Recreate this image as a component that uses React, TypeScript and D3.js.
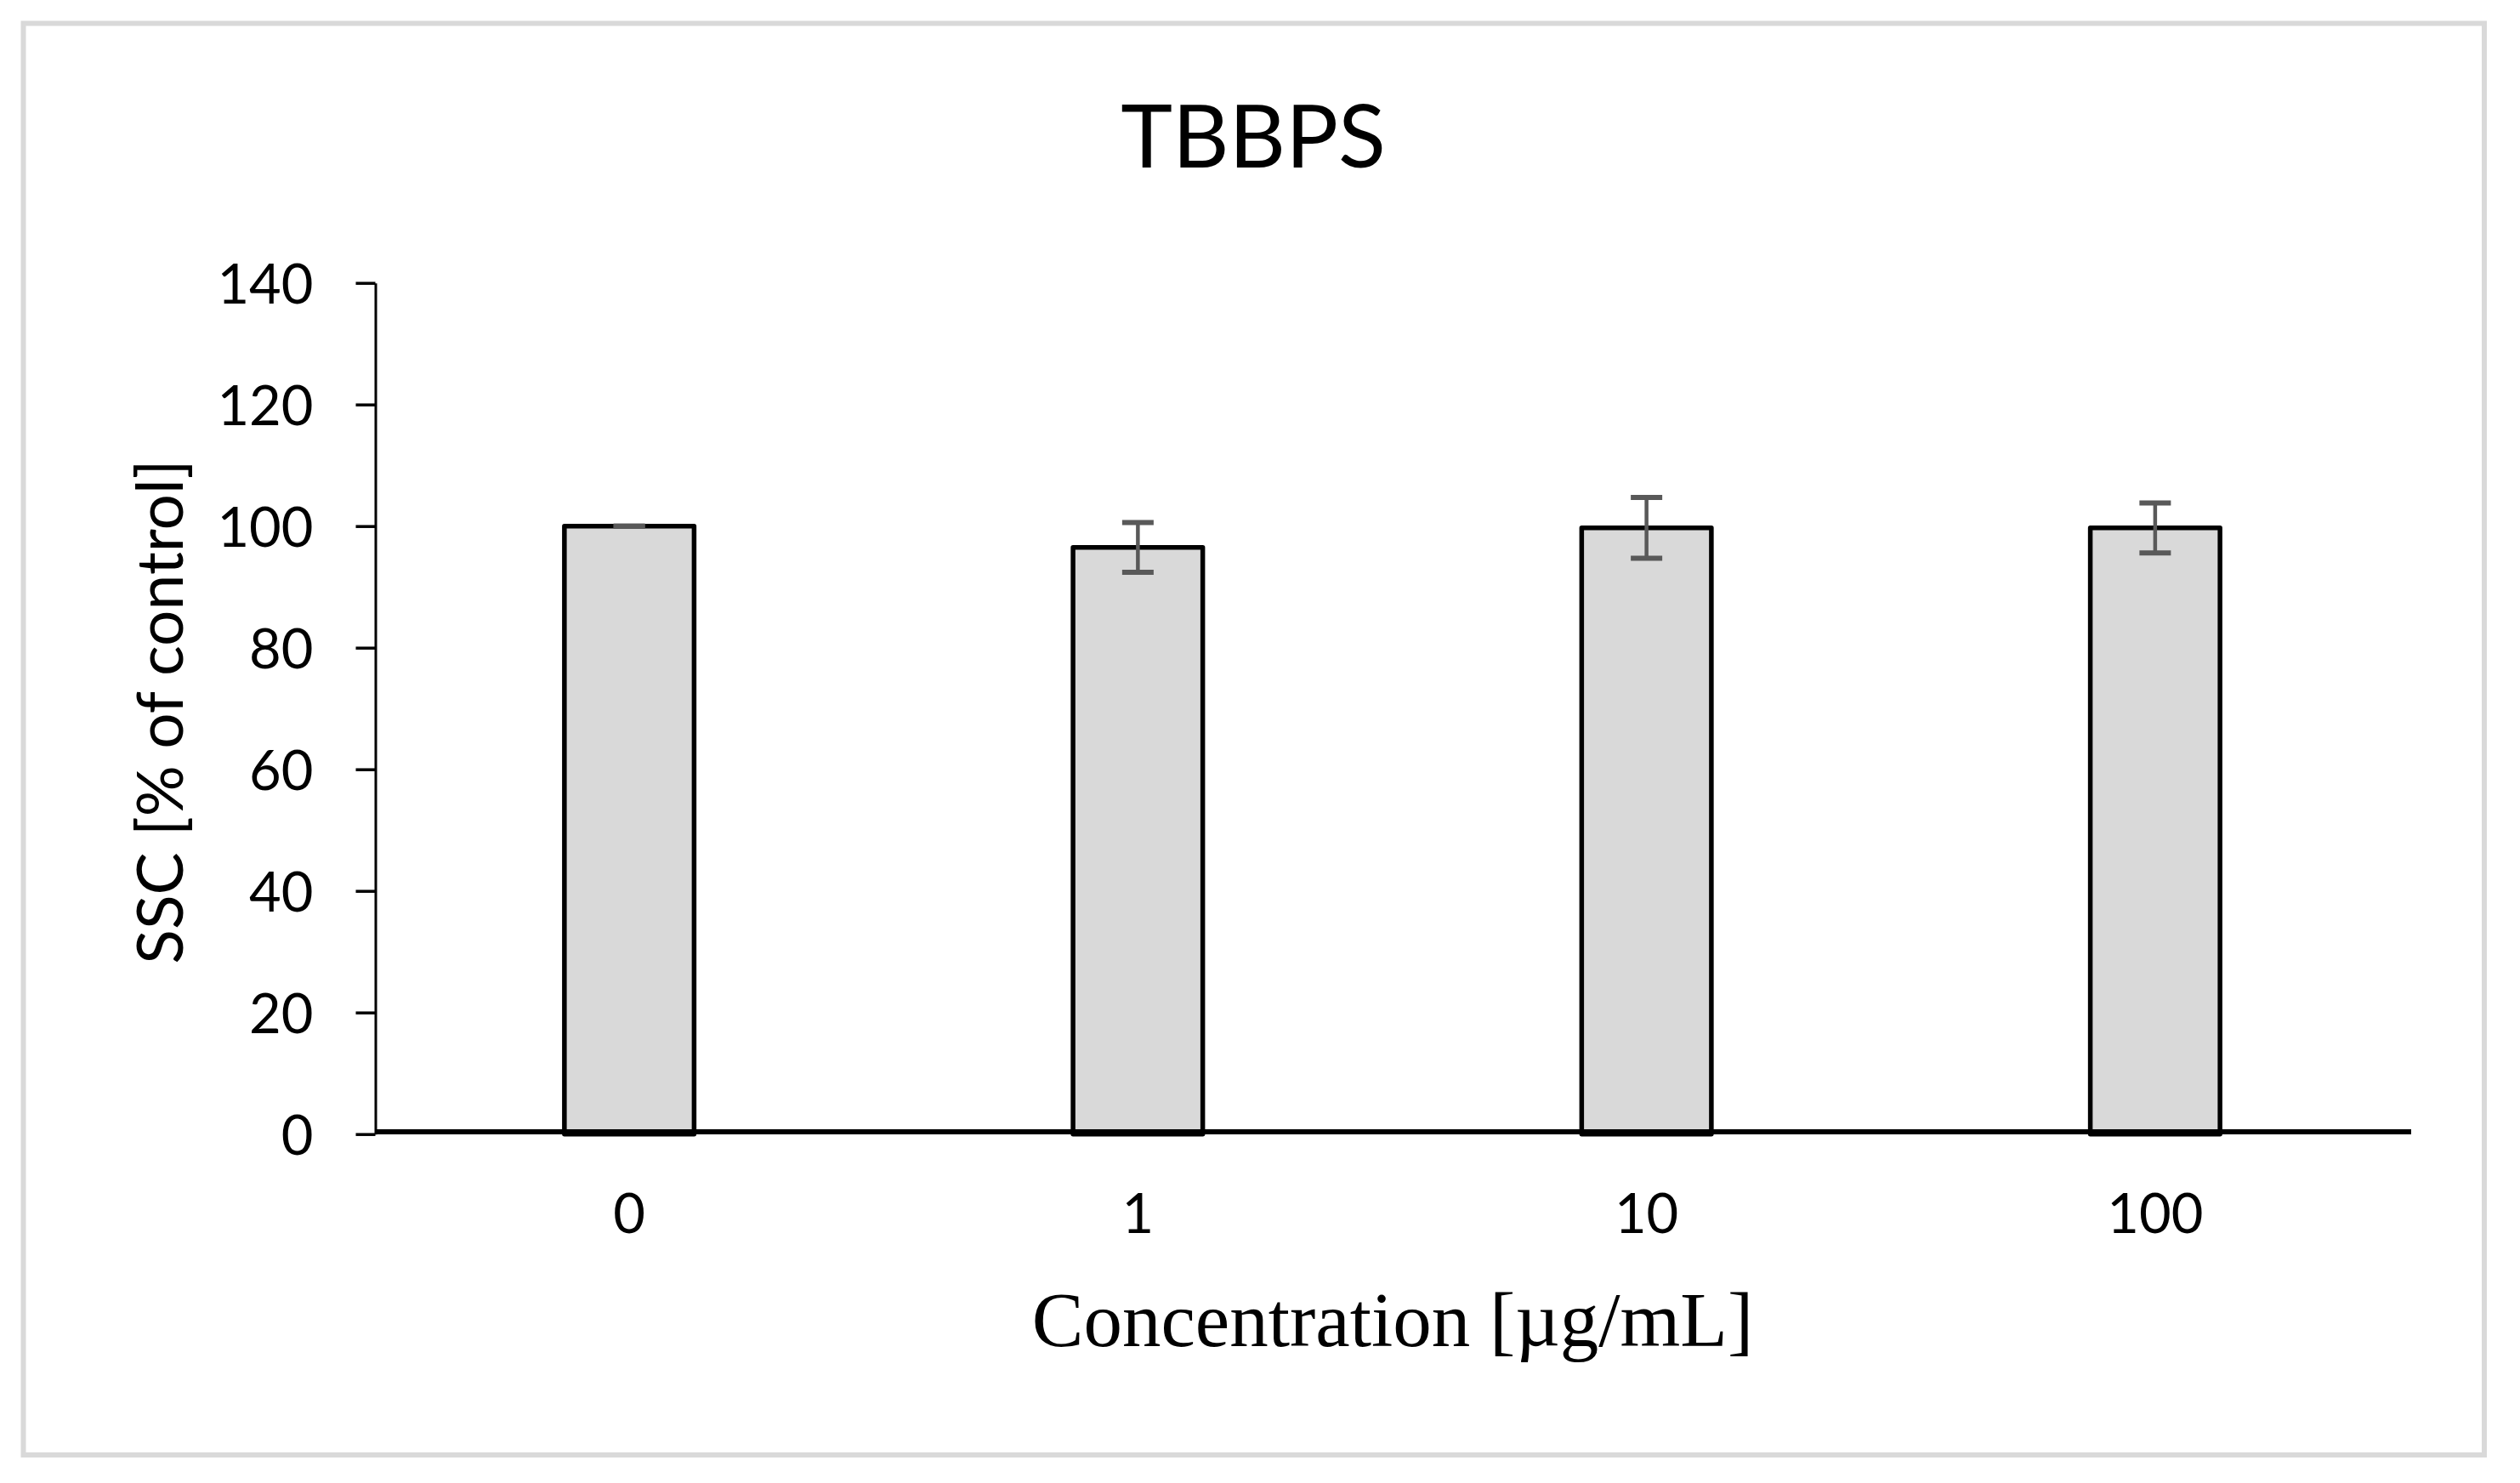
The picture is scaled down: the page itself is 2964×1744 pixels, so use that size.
import React, { useEffect, useRef } from "react";
import { select, scaleBand, scaleLinear, axisLeft } from "d3";

const categories = ["0", "1", "10", "100"];
const means = [100, 96.5, 99.7, 99.7];
const errors = [0, 4.1, 5.0, 4.1];
const yTicks = [0, 20, 40, 60, 80, 100, 120, 140];

const W = 2964;
const H = 1744;
const sans = "Lato, 'Open Sans', sans-serif";
const serif = "'Liberation Serif', 'DejaVu Serif', serif";

export default function App() {
  const svgRef = useRef<SVGSVGElement | null>(null);

  useEffect(() => {
    const svg = select(svgRef.current);
    svg.selectAll("*").remove();

    const x = scaleBand<string>()
      .domain(categories)
      .range([441, 2834])
      .paddingInner(0.745)
      .paddingOuter(0.745 / 2);
    const y = scaleLinear().domain([0, 140]).range([1333.7, 332.7]);

    // frame
    svg
      .append("rect")
      .attr("x", 27.5)
      .attr("y", 27.5)
      .attr("width", 2922 - 27.5)
      .attr("height", 1711 - 27.5)
      .attr("fill", "#fff")
      .attr("stroke", "#d9d9d9")
      .attr("stroke-width", 6);

    // title
    svg
      .append("text")
      .attr("x", 1474)
      .attr("y", 197)
      .attr("text-anchor", "middle")
      .attr("font-family", sans)
      .attr("font-size", 103)
      .attr("fill", "#000")
      .text("TBBPS");

    // y axis
    const yAxis = svg
      .append("g")
      .attr("transform", "translate(441.5,0)")
      .call(axisLeft(y).tickValues(yTicks).tickSize(23).tickSizeOuter(0).tickPadding(50));
    yAxis.select(".domain").attr("stroke", "#000").attr("stroke-width", 3);
    yAxis.selectAll(".tick line").attr("stroke", "#000").attr("stroke-width", 3.5);
    yAxis
      .selectAll(".tick text")
      .attr("font-family", sans)
      .attr("font-size", 65)
      .attr("fill", "#000")
      .attr("dy", "0.36em");

    // bars
    svg
      .append("g")
      .selectAll("rect")
      .data(means)
      .join("rect")
      .attr("x", (_, i) => x(categories[i])!)
      .attr("y", (d) => y(d))
      .attr("width", x.bandwidth())
      .attr("height", (d) => y(0) - y(d))
      .attr("fill", "#d9d9d9")
      .attr("stroke", "#000")
      .attr("stroke-width", 5.5)
      .attr("stroke-linejoin", "round");

    // x axis line
    svg
      .append("line")
      .attr("x1", 441)
      .attr("x2", 2836)
      .attr("y1", 1331)
      .attr("y2", 1331)
      .attr("stroke", "#000")
      .attr("stroke-width", 6);

    // error bars
    const eb = svg
      .append("g")
      .attr("stroke", "#595959")
      .selectAll("g")
      .data(means)
      .join("g")
      .attr("transform", (_, i) => `translate(${x(categories[i])! + x.bandwidth() / 2},0)`);
    eb.append("line")
      .attr("y1", (d, i) => y(d + errors[i]))
      .attr("y2", (d, i) => y(d - errors[i]))
      .attr("stroke-width", 4.5);
    eb.append("line")
      .attr("x1", -18.5)
      .attr("x2", 18.5)
      .attr("y1", (d, i) => y(d + errors[i]))
      .attr("y2", (d, i) => y(d + errors[i]))
      .attr("stroke-width", 6);
    eb.append("line")
      .attr("x1", -18.5)
      .attr("x2", 18.5)
      .attr("y1", (d, i) => y(d - errors[i]))
      .attr("y2", (d, i) => y(d - errors[i]))
      .attr("stroke-width", 6);

    // x tick labels
    svg
      .append("g")
      .selectAll("text")
      .data(categories)
      .join("text")
      .attr("x", (d) => x(d)! + x.bandwidth() / 2)
      .attr("y", 1450)
      .attr("text-anchor", "middle")
      .attr("font-family", sans)
      .attr("font-size", 65)
      .attr("fill", "#000")
      .text((d) => d);

    // axis titles
    svg
      .append("text")
      .attr("x", 1638)
      .attr("y", 1583)
      .attr("text-anchor", "middle")
      .attr("font-family", serif)
      .attr("font-size", 91)
      .attr("fill", "#000")
      .text("Concentration [µg/mL]");

    svg
      .append("text")
      .attr("transform", "translate(189,837) rotate(-90)")
      .attr("text-anchor", "middle")
      .attr("dy", "0.35em")
      .attr("font-family", sans)
      .attr("font-size", 75)
      .attr("fill", "#000")
      .text("SSC [% of control]");
  }, []);

  return (
    <div style={{ position: "absolute", left: 0, top: 0 }}>
      <svg ref={svgRef} width={W} height={H} style={{ display: "block", background: "#fff" }}></svg>
    </div>
  );
}
